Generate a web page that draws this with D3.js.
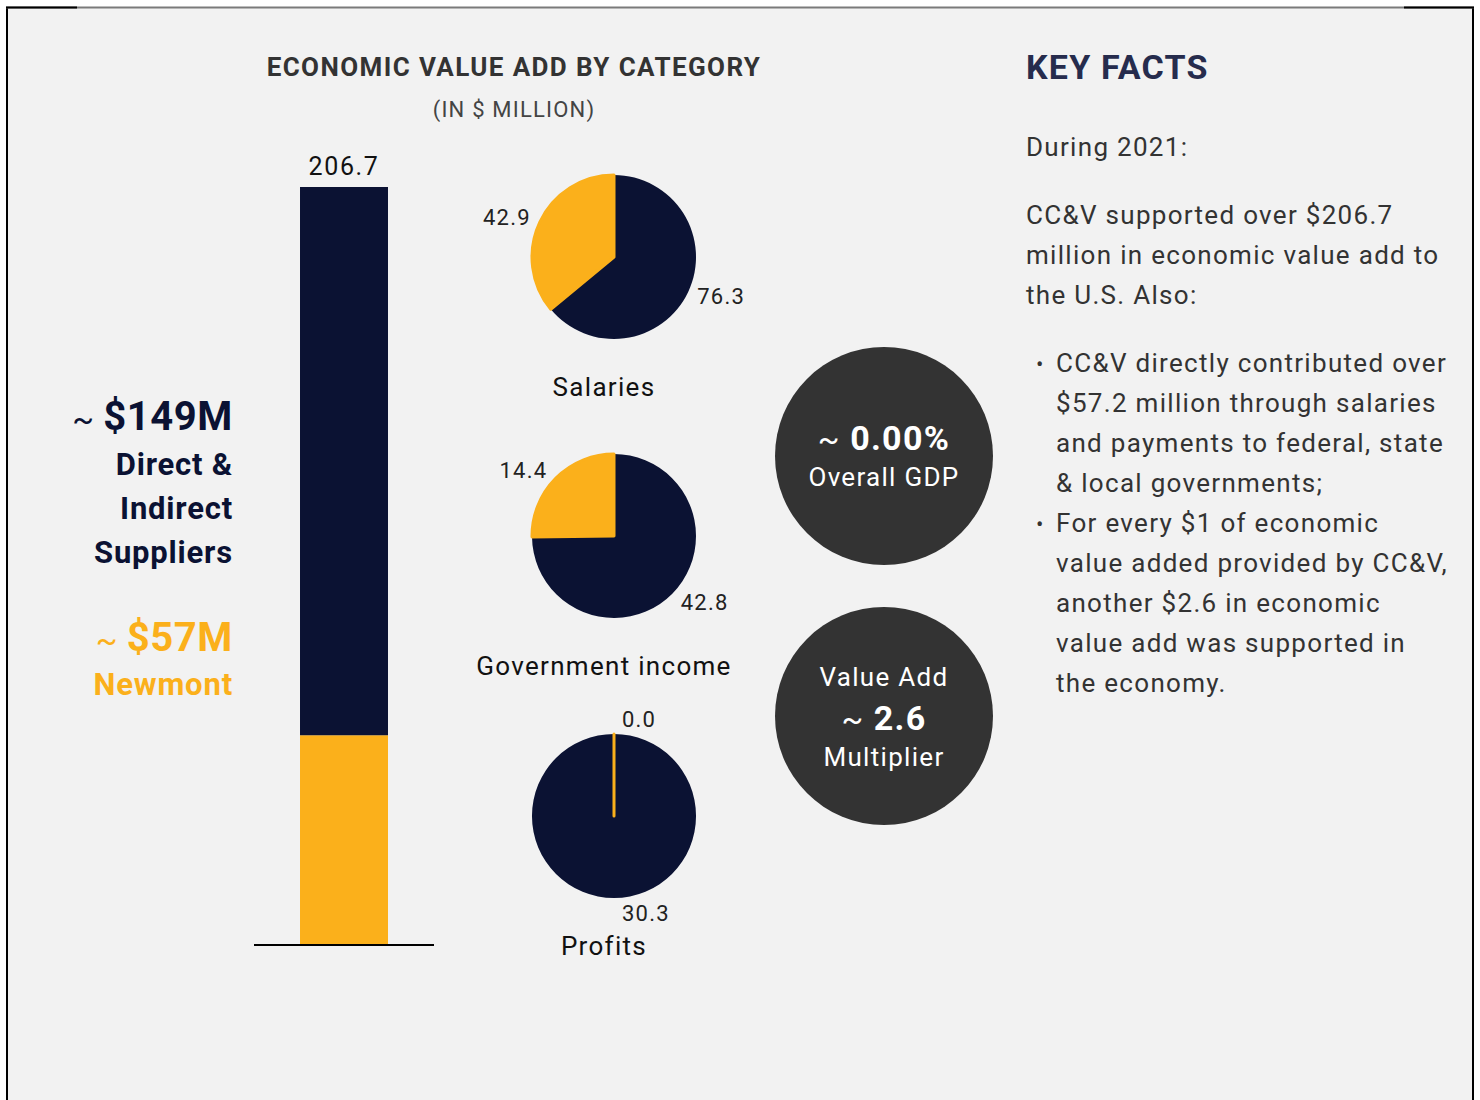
<!DOCTYPE html>
<html>
<head>
<meta charset="utf-8">
<script src="https://cdn.jsdelivr.net/npm/d3@7"></script>
<style>
  body { margin: 0; background: #ffffff; font-family: Roboto, "Noto Sans", sans-serif; }
  svg text { font-family: Roboto, "Noto Sans", sans-serif; }
</style>
</head>
<body>
<script>
// data
const barParts = ["Newmont", "Direct & Indirect Suppliers"];
const barValues = [57.2, 149.5];
const barTotal = 206.7;
const barLabels = ["$57M", "$149M"];

const pieCategories = ["Salaries", "Government income", "Profits"];
const supplierValues = [76.3, 42.8, 30.3];
const newmontValues = [42.9, 14.4, 0.0];

const bubbleLines = [
  [{ t: "~ ", tilde: true }, { t: "0.00%", bold: true }],
  [{ t: "Overall GDP" }]
];
const bubbleLines2 = [
  [{ t: "Value Add" }],
  [{ t: "~ ", tilde: true }, { t: "2.6", bold: true }],
  [{ t: "Multiplier" }]
];

const factsIntro = ["During 2021:"];
const factsPara = ["CC&V supported over $206.7", "million in economic value add to", "the U.S. Also:"];
const factsBullets = [
  ["CC&V directly contributed over", "$57.2 million through salaries", "and payments to federal, state", "& local governments;"],
  ["For every $1 of economic", "value added provided by CC&V,", "another $2.6 in economic", "value add was supported in", "the economy."]
];

const navy = "#0b1233";
const gold = "#fbb01b";
const width = 1480, height = 1100;

const svg = d3.select("body").append("svg")
  .attr("width", width)
  .attr("height", height);

// ! frame
svg.append("rect").attr("x", 7).attr("y", 8).attr("width", 1465).attr("height", 1100)
  .attr("fill", "#f2f2f2");
svg.append("line").attr("x1", 7).attr("x2", 7).attr("y1", 7).attr("y2", 1100)
  .attr("stroke", "#000").attr("stroke-width", 2);
svg.append("line").attr("x1", 1473).attr("x2", 1473).attr("y1", 7).attr("y2", 1100)
  .attr("stroke", "#000").attr("stroke-width", 2);
svg.append("line").attr("x1", 6).attr("x2", 1474).attr("y1", 7.5).attr("y2", 7.5)
  .attr("stroke", "#7a7a7a").attr("stroke-width", 2);
svg.append("line").attr("x1", 6).attr("x2", 77).attr("y1", 7.5).attr("y2", 7.5)
  .attr("stroke", "#000").attr("stroke-width", 2);
svg.append("line").attr("x1", 1404).attr("x2", 1474).attr("y1", 7.5).attr("y2", 7.5)
  .attr("stroke", "#000").attr("stroke-width", 2);

// ! title
svg.append("text").attr("x", 514).attr("y", 76).attr("text-anchor", "middle")
  .attr("font-size", 26).attr("font-weight", 700).attr("fill", "#333")
  .attr("letter-spacing", 1.4)
  .text("ECONOMIC VALUE ADD BY CATEGORY");
svg.append("text").attr("x", 514).attr("y", 117).attr("text-anchor", "middle")
  .attr("font-size", 22).attr("fill", "#444").attr("letter-spacing", 1.2)
  .text("(IN $ MILLION)");

// ! stacked bar
const yScale = d3.scaleLinear().domain([0, barTotal]).range([945, 187]);
const xScale = d3.scaleBand().domain(["total"]).range([254, 434]).paddingInner(0).paddingOuter(0.523);
const stackData = [{ key: "total", Newmont: barValues[0], "Direct & Indirect Suppliers": barValues[1] }];
const series = d3.stack().keys(barParts)(stackData);
svg.append("g").selectAll("rect")
  .data(series)
  .join("rect")
  .attr("x", xScale("total"))
  .attr("width", xScale.bandwidth())
  .attr("y", (s) => yScale(s[0][1]))
  .attr("height", (s) => yScale(s[0][0]) - yScale(s[0][1]))
  .attr("fill", (s, i) => (i === 0 ? gold : navy));

svg.append("line").attr("x1", 254).attr("x2", 434)
  .attr("y1", yScale(0)).attr("y2", yScale(0))
  .attr("stroke", "#000").attr("stroke-width", 2);

svg.append("text")
  .attr("x", xScale("total") + xScale.bandwidth() / 2)
  .attr("y", yScale(barTotal) - 12)
  .attr("text-anchor", "middle").attr("font-size", 25).attr("fill", "#111")
  .attr("letter-spacing", 1.6)
  .text(d3.format(".1f")(barTotal));

// ! left labels
const leftX = 233;
const big1 = svg.append("text").attr("x", leftX).attr("y", 430).attr("text-anchor", "end").attr("fill", navy)
  .attr("letter-spacing", 0.6);
big1.append("tspan").attr("font-size", 32).attr("font-weight", 400).text("~ ");
big1.append("tspan").attr("font-size", 40).attr("font-weight", 700).text(barLabels[1]);
["Direct &", "Indirect", "Suppliers"].forEach((t, i) => {
  svg.append("text").attr("x", leftX).attr("y", 475 + i * 44).attr("text-anchor", "end")
    .attr("font-size", 31).attr("font-weight", 700).attr("fill", navy)
    .attr("letter-spacing", 0.8).text(t);
});
const big2 = svg.append("text").attr("x", leftX).attr("y", 651).attr("text-anchor", "end").attr("fill", gold)
  .attr("letter-spacing", 0.6);
big2.append("tspan").attr("font-size", 32).attr("font-weight", 400).text("~ ");
big2.append("tspan").attr("font-size", 40).attr("font-weight", 700).text(barLabels[0]);
svg.append("text").attr("x", leftX).attr("y", 695).attr("text-anchor", "end")
  .attr("font-size", 31).attr("font-weight", 700).attr("fill", gold)
  .attr("letter-spacing", 0.85).text("Newmont");

// ! pies
const radius = 82;
const pie = d3.pie().sort(null).value((d) => d.value);
const arc = d3.arc().innerRadius(0).outerRadius(radius);
const pieCenters = [257, 536, 816];

pieCategories.forEach((cat, i) => {
  const cx = 614, cy = pieCenters[i];
  const g = svg.append("g").attr("transform", `translate(${cx}, ${cy})`);
  const slices = pie([
    { value: supplierValues[i], color: navy },
    { value: newmontValues[i], color: gold }
  ]);
  g.selectAll("path")
    .data(slices)
    .join("path")
    .attr("d", arc)
    .attr("fill", (d) => d.data.color)
    .attr("stroke", (d) => (d.data.color === gold ? gold : "none"))
    .attr("stroke-width", 3)
    .attr("stroke-linejoin", "round");

  g.selectAll("text.val")
    .data(slices)
    .join("text")
    .attr("class", "val")
    .each(function (d) {
      const a = (d.startAngle + d.endAngle) / 2;
      const s = Math.sin(a), c = -Math.cos(a);
      const r = 91 + 6 * c * c;
      let x = s * r, y = c * r;
      let anchor = s < -0.2 ? "end" : "start";
      if (Math.abs(s) < 0.2) x += 8;
      d3.select(this)
        .attr("x", x).attr("y", y).attr("dy", "0.35em")
        .attr("text-anchor", anchor);
    })
    .attr("font-size", 22).attr("fill", "#222").attr("letter-spacing", 1.2)
    .text((d) => d3.format(".1f")(d.data.value));

  svg.append("text").attr("x", 604).attr("y", cy + 139).attr("text-anchor", "middle")
    .attr("font-size", 26).attr("fill", "#111").attr("letter-spacing", 1.3).text(cat);
});

// ! bubbles
function bubble(cy, lines, startY) {
  svg.append("circle").attr("cx", 884).attr("cy", cy).attr("r", 109).attr("fill", "#333333");
  lines.forEach((parts, i) => {
    const t = svg.append("text").attr("x", 884).attr("y", startY[i]).attr("text-anchor", "middle")
      .attr("fill", "#fff").attr("letter-spacing", 1.3);
    parts.forEach((p) => {
      t.append("tspan")
        .attr("font-size", p.bold ? 34 : p.tilde ? 32 : 26)
        .attr("font-weight", p.bold ? 700 : 400)
        .text(p.t);
    });
  });
}
bubble(456, bubbleLines, [450, 486]);
bubble(716, bubbleLines2, [686, 730, 766]);

// ! key facts
svg.append("text").attr("x", 1026).attr("y", 79).attr("font-size", 34).attr("font-weight", 700)
  .attr("fill", "#262c4d").attr("letter-spacing", 1.2).text("KEY FACTS");
const bodyColor = "#333";
const bodySpacing = 1.3;
svg.append("text").attr("x", 1026).attr("y", 156).attr("font-size", 26).attr("fill", bodyColor)
  .attr("letter-spacing", bodySpacing).text(factsIntro[0]);
factsPara.forEach((t, i) => {
  svg.append("text").attr("x", 1026).attr("y", 224 + i * 40).attr("font-size", 26).attr("fill", bodyColor)
    .attr("letter-spacing", bodySpacing).text(t);
});
let lineY = 372;
factsBullets.forEach((b) => {
  svg.append("text").attr("x", 1036).attr("y", lineY).attr("font-size", 22).attr("fill", bodyColor).text("•");
  b.forEach((t) => {
    svg.append("text").attr("x", 1056).attr("y", lineY).attr("font-size", 26).attr("fill", bodyColor)
      .attr("letter-spacing", bodySpacing).text(t);
    lineY += 40;
  });
});
</script>
</body>
</html>
